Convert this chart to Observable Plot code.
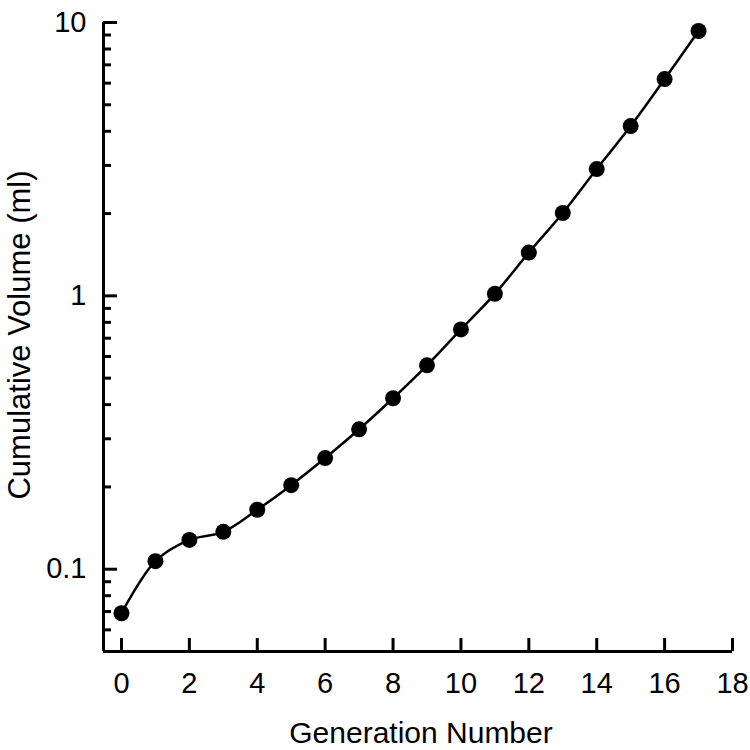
<!DOCTYPE html>
<html>
<head>
<meta charset="utf-8">
<script src="https://cdn.jsdelivr.net/npm/d3@7"></script>
<script src="https://cdn.jsdelivr.net/npm/@observablehq/plot@0.6"></script>
<style>
  html, body { margin: 0; padding: 0; background: #fff; }
  svg { display: block; }
</style>
</head>
<body>
<div id="chart"></div>
<script>
// Data
const generations = [0, 1, 2, 3, 4, 5, 6, 7, 8, 9, 10, 11, 12, 13, 14, 15, 16, 17];
const cumulativeVolume = [0.069, 0.107, 0.128, 0.137, 0.165, 0.203, 0.255, 0.325, 0.422, 0.557,
  0.754, 1.017, 1.44, 2.01, 2.91, 4.18, 6.21, 9.31];

const xTicks = [0, 2, 4, 6, 8, 10, 12, 14, 16, 18];
const yMajorTicks = [0.1, 1, 10];
const yMinorTicks = [0.06, 0.07, 0.08, 0.09, 0.2, 0.3, 0.4, 0.5, 0.6, 0.7, 0.8, 0.9, 2, 3, 4, 5, 6, 7, 8, 9];
const xDomain = [-0.53, 18];
const yDomain = [0.05, 10];
const xLabel = "Generation Number";
const yLabel = "Cumulative Volume (ml)";

const data = generations.map((g, i) => ({g, v: cumulativeVolume[i]}));

const font = "'Liberation Sans', Arial, Helvetica, sans-serif";

const chart = Plot.plot({
  width: 750,
  height: 750,
  marginLeft: 103,
  marginRight: 18,
  marginTop: 22,
  marginBottom: 99,
  style: {fontFamily: font, background: "#fff", color: "#000"},
  x: {domain: xDomain, label: null, axis: null},
  y: {type: "log", domain: yDomain, label: null, axis: null},
  marks: [
    // axis lines
    Plot.ruleX([xDomain[0]], {stroke: "#000", strokeWidth: 3}),
    Plot.ruleY([yDomain[0]], {stroke: "#000", strokeWidth: 3}),
    // inward ticks
    Plot.axisX({ticks: xTicks, tickSize: -13, strokeWidth: 3, text: null, anchor: "bottom"}),
    Plot.axisY({ticks: yMajorTicks, tickSize: -14, strokeWidth: 3, text: null, anchor: "left"}),
    Plot.axisY({ticks: yMinorTicks, tickSize: -8, strokeWidth: 3, text: null, anchor: "left"}),
    // tick labels
    Plot.text(xTicks, {x: d => d, frameAnchor: "bottom", lineAnchor: "middle", textAnchor: "middle",
      dy: 32, fontSize: 29, text: d => String(d), fill: "#000"}),
    Plot.text(yMajorTicks, {y: d => d, frameAnchor: "left", lineAnchor: "middle", textAnchor: "end",
      dx: -17, fontSize: 29, text: d => String(d), fill: "#000"}),
    // axis titles
    Plot.text([xLabel], {frameAnchor: "bottom", lineAnchor: "middle", textAnchor: "middle",
      dy: 82, dx: 3, fontSize: 30, text: d => d, fill: "#000"}),
    Plot.text([yLabel], {frameAnchor: "left", lineAnchor: "middle", textAnchor: "middle", rotate: -90,
      dx: -83, dy: -2, fontSize: 31, text: d => d, fill: "#000"}),
    // data
    Plot.line(data, {x: "g", y: "v", curve: "catmull-rom", stroke: "#000", strokeWidth: 2.5}),
    Plot.dot(data, {x: "g", y: "v", r: 8, fill: "#000", stroke: "none"})
  ]
});

document.getElementById("chart").appendChild(chart);
</script>
</body>
</html>
